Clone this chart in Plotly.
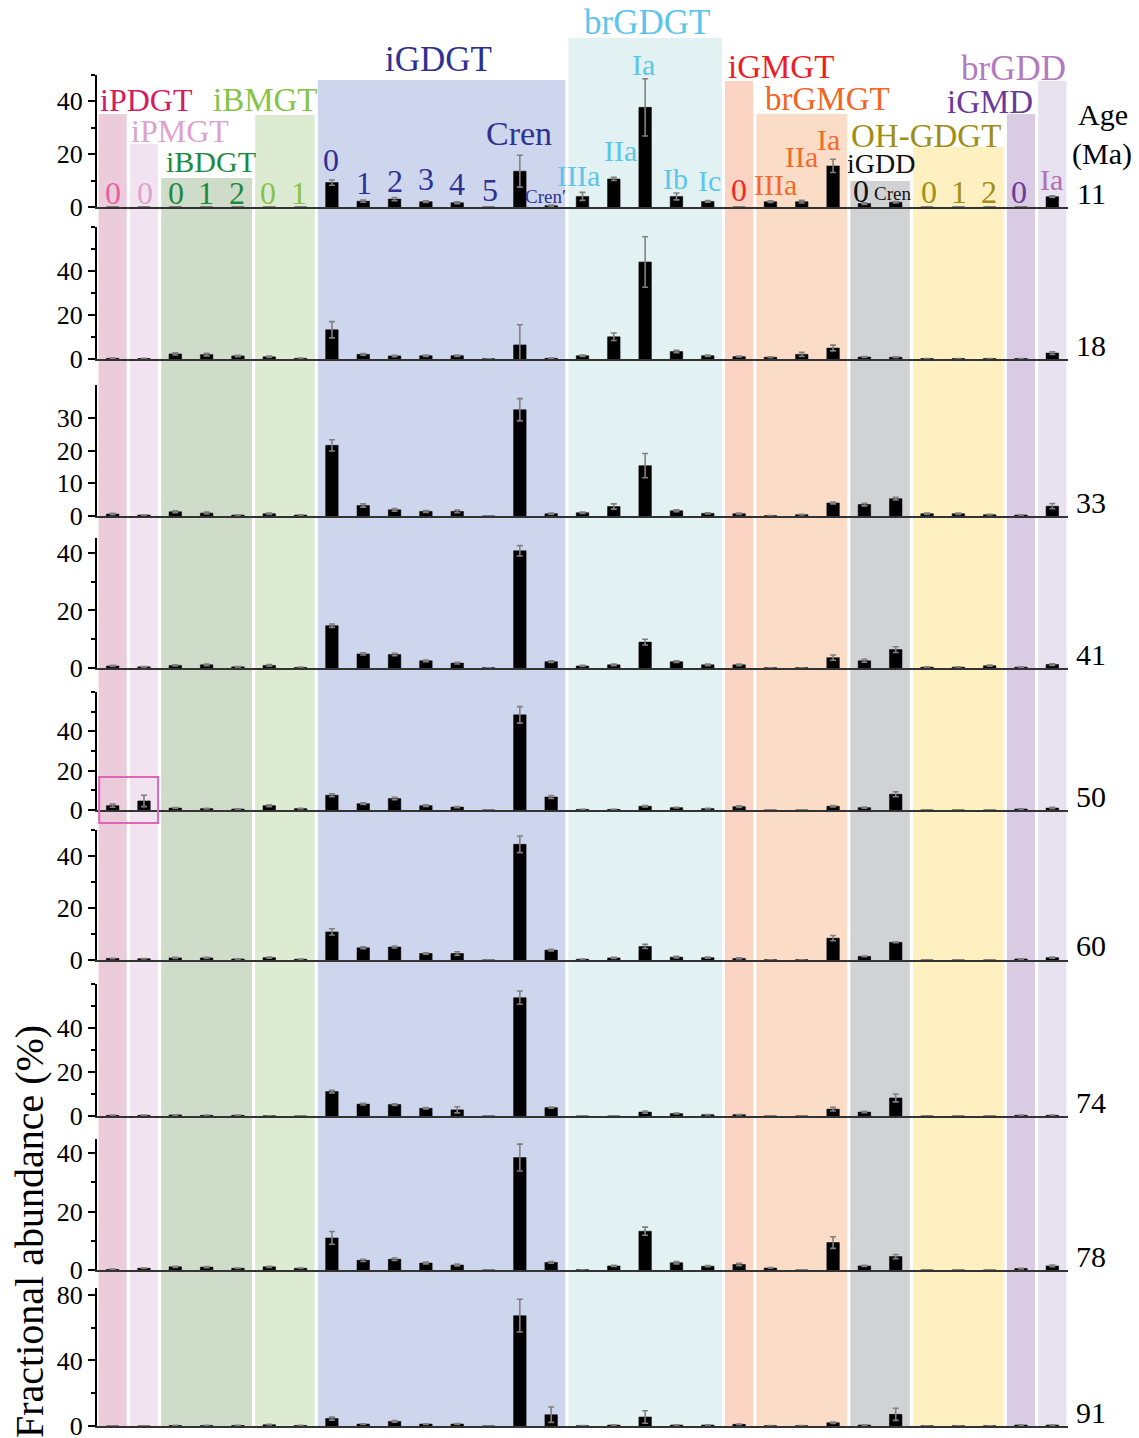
import plotly.graph_objects as go

# ---- compounds (x categories) ----
compounds = [
    "iPDGT-0", "iPMGT-0", "iBDGT-0", "iBDGT-1", "iBDGT-2", "iBMGT-0", "iBMGT-1",
    "iGDGT-0", "iGDGT-1", "iGDGT-2", "iGDGT-3", "iGDGT-4", "iGDGT-5", "Cren", "Cren'",
    "brGDGT-IIIa", "brGDGT-IIa", "brGDGT-Ia", "brGDGT-Ib", "brGDGT-Ic",
    "iGMGT-0", "brGMGT-IIIa", "brGMGT-IIa", "brGMGT-Ia",
    "iGDD-0", "iGDD-Cren", "OH-GDGT-0", "OH-GDGT-1", "OH-GDGT-2", "iGMD-0", "brGDD-Ia",
]

# ---- fractional abundance (%) per sample age, with error ----
ages = ["11", "18", "33", "41", "50", "60", "74", "78", "91"]

ab_11 = [0, 0, 0, 0, 0, 0, 0, 9.2, 2.2, 3.0, 2.0, 1.6, 0, 13.5, 0.5,
         4.0, 10.6, 37.6, 4.0, 2.1, 0, 2.0, 2.0, 15.5, 1.3, 1.8, 0, 0, 0, 0, 3.9]
er_11 = [0, 0, 0, 0, 0, 0, 0, 1.0, 0.4, 0.6, 0.3, 0.4, 0, 6.0, 0.2,
         1.5, 0.6, 10.8, 1.3, 0.3, 0, 0.3, 0.5, 2.5, 0.3, 0.3, 0, 0, 0, 0, 0.3]

ab_18 = [0.3, 0.2, 2.3, 2.0, 1.4, 1.0, 0.3, 13.3, 2.1, 1.4, 1.5, 1.5, 0.1, 6.4, 0.3,
         1.5, 10.1, 44.1, 3.4, 1.5, 1.1, 0.8, 2.1, 5.0, 0.9, 0.8, 0.2, 0.2, 0.2, 0.2, 2.7]
er_18 = [0.1, 0.1, 0.5, 0.6, 0.3, 0.3, 0.1, 3.7, 0.4, 0.3, 0.3, 0.3, 0, 9.2, 0.1,
         0.3, 1.7, 11.5, 0.5, 0.3, 0.2, 0.2, 0.9, 1.3, 0.2, 0.2, 0, 0, 0, 0, 0.6]

ab_33 = [0.6, 0.3, 1.3, 0.9, 0.3, 0.7, 0.3, 21.6, 3.2, 1.9, 1.4, 1.4, 0, 32.5, 0.7,
         1.0, 2.9, 15.4, 1.6, 0.8, 0.7, 0.1, 0.4, 4.0, 3.5, 5.3, 0.7, 0.7, 0.4, 0.3, 3.0]
er_33 = [0.2, 0.1, 0.3, 0.3, 0.1, 0.2, 0.1, 1.7, 0.5, 0.4, 0.3, 0.4, 0, 3.4, 0.2,
         0.2, 0.8, 3.7, 0.3, 0.2, 0.2, 0, 0.1, 0.3, 0.4, 0.4, 0.2, 0.2, 0.1, 0.1, 0.8]

ab_41 = [0.7, 0.4, 0.9, 1.1, 0.4, 0.9, 0.2, 14.7, 4.9, 4.7, 2.5, 1.7, 0.1, 40.7, 2.2,
         0.7, 1.1, 9.0, 2.2, 1.1, 1.1, 0.1, 0.1, 3.6, 2.5, 6.4, 0.3, 0.3, 0.8, 0.3, 1.2]
er_41 = [0.2, 0.1, 0.2, 0.3, 0.1, 0.3, 0.1, 0.6, 0.4, 0.4, 0.3, 0.3, 0, 1.8, 0.3,
         0.2, 0.3, 1.0, 0.3, 0.3, 0.3, 0, 0, 0.9, 0.5, 1.0, 0.1, 0.1, 0.2, 0.1, 0.3]

ab_50 = [2.2, 4.6, 1.0, 0.7, 0.5, 2.2, 0.7, 7.5, 3.2, 5.8, 2.2, 1.5, 0, 48.3, 6.6,
         0.3, 0.3, 1.9, 1.2, 0.7, 1.7, 0, 0, 1.9, 1.2, 8.0, 0, 0, 0, 0.5, 1.0]
er_50 = [0.8, 2.9, 0.2, 0.2, 0.1, 0.5, 0.2, 0.7, 0.4, 0.6, 0.4, 0.3, 0, 4.2, 0.7,
         0.1, 0.1, 0.4, 0.2, 0.2, 0.4, 0, 0, 0.4, 0.3, 1.3, 0, 0, 0, 0.1, 0.4]

ab_60 = [0.6, 0.5, 0.8, 0.8, 0.4, 0.9, 0.3, 10.8, 4.7, 5.0, 2.5, 2.5, 0, 44.5, 3.8,
         0.3, 0.8, 5.2, 1.1, 0.9, 0.6, 0.1, 0.1, 8.4, 1.4, 6.8, 0, 0, 0, 0.4, 0.9]
er_60 = [0.1, 0.1, 0.2, 0.2, 0.1, 0.2, 0.1, 1.2, 0.4, 0.4, 0.3, 0.7, 0, 3.2, 0.3,
         0.1, 0.2, 0.8, 0.3, 0.2, 0.2, 0, 0, 1.0, 0.1, 0.1, 0, 0, 0, 0.1, 0.2]

ab_74 = [0.3, 0.3, 0.5, 0.3, 0.3, 0.1, 0, 11.1, 5.4, 5.2, 3.5, 2.8, 0, 53.8, 3.8,
         0, 0, 1.8, 1.1, 0.6, 0.6, 0, 0, 3.1, 1.8, 8.2, 0, 0, 0, 0.3, 0.3]
er_74 = [0.1, 0.1, 0.1, 0.1, 0.1, 0, 0, 0.6, 0.4, 0.4, 0.3, 1.4, 0, 3.0, 0.3,
         0, 0, 0.5, 0.2, 0.1, 0.1, 0, 0, 0.8, 0.3, 1.8, 0, 0, 0, 0.1, 0.1]

ab_78 = [0.2, 0.6, 1.1, 1.0, 0.6, 1.1, 0.6, 11.0, 3.3, 3.7, 2.4, 1.7, 0, 38.5, 2.6,
         0.1, 1.4, 13.3, 2.5, 1.3, 1.9, 0.7, 0, 9.4, 1.4, 4.6, 0, 0, 0, 0.5, 1.4]
er_78 = [0.1, 0.1, 0.2, 0.2, 0.1, 0.2, 0.1, 2.2, 0.4, 0.4, 0.3, 0.3, 0, 4.6, 0.3,
         0, 0.2, 1.4, 0.4, 0.2, 0.4, 0.1, 0, 2.0, 0.2, 0.7, 0, 0, 0, 0.1, 0.3]

ab_91 = [0, 0, 0.3, 0.3, 0.3, 0.8, 0.3, 4.5, 1.2, 2.8, 1.2, 1.2, 0, 67.3, 6.9,
         0.2, 0.6, 5.5, 0.6, 0.6, 1.0, 0.2, 0.2, 2.0, 0.6, 7.1, 0.1, 0.1, 0.1, 0.6, 0.6]
er_91 = [0, 0, 0.1, 0.1, 0.1, 0.2, 0.1, 0.9, 0.2, 0.5, 0.2, 0.3, 0, 10.0, 4.7,
         0, 0.1, 3.8, 0.1, 0.1, 0.2, 0, 0, 0.4, 0.1, 3.7, 0, 0, 0, 0.1, 0.1]

abundances = [ab_11, ab_18, ab_33, ab_41, ab_50, ab_60, ab_74, ab_78, ab_91]
errors = [er_11, er_18, er_33, er_41, er_50, er_60, er_74, er_78, er_91]

# y-axis extent, labelled ticks and minor tick step for each panel
y_max = [50, 60, 40, 45, 60, 50, 60, 45, 84]
y_ticks = [[0, 20, 40], [0, 20, 40], [0, 10, 20, 30], [0, 20, 40], [0, 20, 40],
           [0, 20, 40], [0, 20, 40], [0, 20, 40], [0, 40, 80]]
y_minor = [10, 10, None, 10, 10, 10, 10, 10, 20]

# ---- lipid classes: name, first and last compound index ----
group_names = ["iPDGT", "iPMGT", "iBDGT", "iBMGT", "iGDGT", "brGDGT",
               "iGMGT", "brGMGT", "iGDD", "OH-GDGT", "iGMD", "brGDD"]
group_first = [0, 1, 2, 5, 7, 15, 20, 21, 24, 26, 29, 30]
group_last = [0, 1, 4, 6, 14, 19, 20, 23, 25, 28, 29, 30]

# ---- styling ----
W, H = 1139, 1438
FONT = "Liberation Serif, Times New Roman, serif"

band_fill = ["#EBCCDA", "#F1E3EF", "#CFDCCA", "#DDEBD3", "#CED6EE", "#E2F1F1",
             "#FCD4C4", "#FBDDC7", "#D1D2D4", "#FEF0C0", "#D9CBE4", "#E7E1F0"]
band_top_px = [114, 144, 178, 115, 80, 38, 81, 114, 181, 147, 114, 81]
title_color = ["#D61A5E", "#DDA2CD", "#1E8A3E", "#86C448", "#2E3192", "#5BC5EC",
               "#EE1C25", "#F26522", "#111111", "#A08F14", "#6A3A98", "#B47ABE"]
title_pos_px = [(147, 100), (180, 131), (211, 162), (265, 100), (438, 60), (647, 22),
                (781, 67), (827, 99), (881, 163), (926, 136), (990, 102), (1013, 68)]
title_size = [32, 32, 30, 33, 35, 35, 33, 33, 28, 33, 33, 35]

x_left_px, x_right_px = 97, 1068
base_px = [207, 359, 516, 668, 810, 960, 1116, 1270, 1426]
px_per_unit = [2.65, 2.2, 3.27, 2.88, 1.97, 2.6, 2.2, 2.92, 1.64]


def fx(p):
    return p / W


def fy(p):
    return 1 - p / H


fig = go.Figure()
layout = dict(
    template="none",
    width=W, height=H,
    margin=dict(l=0, r=0, t=0, b=0, autoexpand=False),
    paper_bgcolor="white", plot_bgcolor="rgba(0,0,0,0)",
    showlegend=False,
    font=dict(family=FONT, color="black", size=26),
)

for k in range(9):
    sfx = "" if k == 0 else str(k + 1)
    xa, ya = "x" + sfx, "y" + sfx
    top_px = base_px[k] - y_max[k] * px_per_unit[k]
    fig.add_trace(go.Bar(
        x=compounds, y=abundances[k],
        error_y=dict(type="data", array=errors[k], color="#808080",
                     thickness=1.6, width=3),
        marker=dict(color="black", line=dict(color="black", width=0.5)),
        width=0.4,
        xaxis=xa, yaxis=ya,
        hovertemplate="%{x}: %{y}%<extra>" + ages[k] + " Ma</extra>",
    ))
    layout["xaxis" + sfx] = dict(
        domain=[fx(x_left_px), fx(x_right_px)], anchor=ya,
        type="category", categoryorder="array", categoryarray=compounds,
        range=[-0.5, len(compounds) - 0.5], automargin=False,
        showline=True, linecolor="#333333", linewidth=2,
        ticks="", showticklabels=False, showgrid=False, zeroline=False,
        fixedrange=True,
    )
    yax = dict(
        domain=[fy(base_px[k]), fy(top_px)], anchor=xa,
        range=[0, y_max[k]], tickmode="array", tickvals=y_ticks[k],
        automargin=False, ticklabeloverflow="allow",
        showline=True, linecolor="black", linewidth=2,
        ticks="outside", ticklen=7, tickwidth=1.5, tickcolor="black",
        tickfont=dict(family=FONT, size=26, color="black"),
        showgrid=False, zeroline=False, fixedrange=True,
    )
    if y_minor[k]:
        yax["minor"] = dict(tickmode="linear", dtick=y_minor[k], tick0=0,
                            ticks="outside", ticklen=4, tickwidth=1.5,
                            tickcolor="black", showgrid=False)
    layout["yaxis" + sfx] = yax

fig.update_layout(**layout)

# class background bands running down through all panels
shapes = []
for g in range(len(group_names)):
    shapes.append(dict(
        type="rect", xref="x", yref="paper", layer="below",
        x0=group_first[g] - 0.5 + 0.05, x1=group_last[g] + 0.5 - 0.05,
        y0=fy(1428), y1=fy(band_top_px[g]),
        fillcolor=band_fill[g], line=dict(width=0),
    ))

# highlight box around the iPDGT/iPMGT bars of the 50 Ma sample
shapes.append(dict(
    type="rect", xref="x5", yref="paper", layer="above",
    x0=-0.43, x1=1.45, y0=fy(823), y1=fy(777),
    line=dict(color="#E066B8", width=2), fillcolor="rgba(0,0,0,0)",
))
fig.update_layout(shapes=shapes)

ann = []

# class titles
for g in range(len(group_names)):
    px, py = title_pos_px[g]
    ann.append(dict(text=group_names[g], x=fx(px), y=fy(py), xref="paper", yref="paper",
                    showarrow=False, xanchor="center", yanchor="middle",
                    font=dict(family=FONT, size=title_size[g], color=title_color[g])))

# compound labels in the top panel: text, x px, y px, color, size
compound_labels = [
    ("0", 113, 193, "#EB5CA1", 32), ("0", 145, 193, "#DDA3CC", 32),
    ("0", 176, 193, "#1E8A3E", 32), ("1", 206, 193, "#1E8A3E", 32), ("2", 237, 193, "#1E8A3E", 32),
    ("0", 268, 193, "#86C448", 32), ("1", 299, 193, "#86C448", 32),
    ("0", 331, 160, "#2E3192", 32), ("1", 364, 183, "#2E3192", 32), ("2", 395, 181, "#2E3192", 32),
    ("3", 426, 179, "#2E3192", 32), ("4", 457, 184, "#2E3192", 32), ("5", 490, 190, "#2E3192", 32),
    ("Cren", 519, 134, "#2E3192", 34), ("Cren\u2032", 545, 196, "#2E3192", 19),
    ("IIIa", 578, 176, "#5BC5EC", 30), ("IIa", 620, 151, "#5BC5EC", 30), ("Ia", 643, 64, "#5BC5EC", 30),
    ("Ib", 675, 179, "#5BC5EC", 30), ("Ic", 709, 181, "#5BC5EC", 30),
    ("0", 739, 190, "#EE2A24", 32),
    ("IIIa", 775, 185, "#F26A2A", 30), ("IIa", 802, 157, "#F26A2A", 30), ("Ia", 828, 139, "#F26A2A", 30),
    ("0", 861, 191, "#111111", 32), ("Cren", 892, 193, "#111111", 19),
    ("0", 929, 192, "#A08F14", 32), ("1", 959, 192, "#A08F14", 32), ("2", 989, 192, "#A08F14", 32),
    ("0", 1019, 192, "#6A3A98", 32), ("Ia", 1051, 180, "#B06FB6", 30),
]
for txt, px, py, col, sz in compound_labels:
    ann.append(dict(text=txt, x=fx(px), y=fy(py), xref="paper", yref="paper",
                    showarrow=False, xanchor="center", yanchor="middle",
                    font=dict(family=FONT, size=sz, color=col)))

# sample ages at the right end of each baseline
for k in range(9):
    sfx = "" if k == 0 else str(k + 1)
    ann.append(dict(text=ages[k], x=fx(1091), y=0, xref="paper", yref="y" + sfx,
                    showarrow=False, xanchor="center", yanchor="middle", yshift=14,
                    font=dict(family=FONT, size=30, color="black")))

ann.append(dict(text="Age", x=fx(1103), y=fy(114), xref="paper", yref="paper",
                showarrow=False, xanchor="center", yanchor="middle",
                font=dict(family=FONT, size=30, color="black")))
ann.append(dict(text="(Ma)", x=fx(1102), y=fy(154), xref="paper", yref="paper",
                showarrow=False, xanchor="center", yanchor="middle",
                font=dict(family=FONT, size=30, color="black")))

ann.append(dict(text="Fractional abundance (%)", x=fx(29), y=fy(1232),
                xref="paper", yref="paper", textangle=-90,
                showarrow=False, xanchor="center", yanchor="middle",
                font=dict(family=FONT, size=40, color="black")))

fig.update_layout(annotations=ann)

fig.write_html("out.html")
